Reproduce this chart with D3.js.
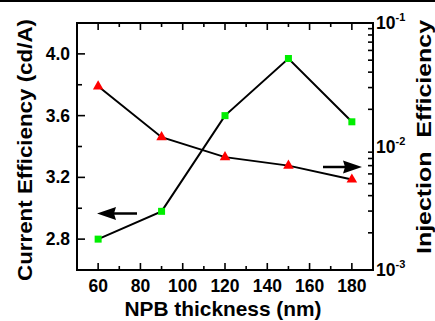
<!DOCTYPE html>
<html lang="en">
<head>
    <meta charset="UTF-8">
    <title>Current and Injection Efficiency vs NPB thickness</title>
    <script src="https://d3js.org/d3.v7.min.js"></script>
    <style>
        body { margin: 0; background: #fff; }
        svg text { font-family: "Liberation Sans", Arial, sans-serif; font-weight: bold; fill: #000; }
    </style>
</head>
<body>
    <svg id="chart" width="435" height="321"></svg>

    <script>
        // Data
        const thickness = [60, 90, 120, 150, 180];
        const currentEff = [2.80, 2.98, 3.60, 3.97, 3.56];     // cd/A, left axis
        const injectionEff = [0.0307, 0.0119, 0.0082, 0.0070, 0.0054]; // right axis, log
        const xTicks = [60, 80, 100, 120, 140, 160, 180];
        const yLeftTicks = [2.8, 3.2, 3.6, 4.0];
        const yRightTicks = [1e-3, 1e-2, 1e-1];
        const yRightLabels = ["-3", "-2", "-1"];

        const width = 435, height = 321;
        const margin = { left: 77, right: 62, top: 23, bottom: 51 };
        const x0 = margin.left, x1 = width - margin.right;
        const y0 = height - margin.bottom, y1 = margin.top;

        const svg = d3.select("#chart");

        // black strip along the top edge
        svg.append("rect").attr("x", 0).attr("y", 0).attr("width", width).attr("height", 2).attr("fill", "#000");

        const x = d3.scaleLinear().domain([50, 190]).range([x0, x1]);
        const yL = d3.scaleLinear().domain([2.6, 4.2]).range([y0, y1]);
        const yR = d3.scaleLog().domain([1e-3, 1e-1]).range([y0, y1]);

        // frame
        svg.append("rect")
            .attr("x", x0).attr("y", y1)
            .attr("width", x1 - x0).attr("height", y0 - y1)
            .attr("fill", "none").attr("stroke", "#000").attr("stroke-width", 2);

        const tickG = svg.append("g").attr("stroke", "#000").attr("stroke-width", 1.6);

        // x ticks, bottom and top, pointing inward
        d3.range(60, 181, 10).forEach(v => {
            const len = v % 20 === 0 ? 7 : 4;
            tickG.append("line").attr("x1", x(v)).attr("x2", x(v)).attr("y1", y0).attr("y2", y0 - len);
            tickG.append("line").attr("x1", x(v)).attr("x2", x(v)).attr("y1", y1).attr("y2", y1 + len);
        });

        // left y ticks
        d3.range(2.8, 4.01, 0.2).forEach(v => {
            const major = Math.round(v * 10) % 4 === 0;
            tickG.append("line").attr("x1", x0).attr("x2", x0 + (major ? 8 : 5)).attr("y1", yL(v)).attr("y2", yL(v));
        });

        // right log ticks
        yR.ticks().forEach(v => {
            const major = yRightTicks.some(t => Math.abs(t - v) / t < 1e-6);
            if (major) return;
            tickG.append("line").attr("x1", x1).attr("x2", x1 - 5).attr("y1", yR(v)).attr("y2", yR(v));
        });

        // tick labels
        svg.append("g").selectAll("text").data(xTicks).join("text")
            .attr("x", d => x(d)).attr("y", 292)
            .attr("text-anchor", "middle").attr("font-size", 17.5)
            .text(d => d);

        svg.append("g").selectAll("text").data(yLeftTicks).join("text")
            .attr("x", x0 - 7).attr("y", d => yL(d) + 6)
            .attr("text-anchor", "end").attr("font-size", 17.5)
            .text(d => d.toFixed(1));

        const rl = svg.append("g").selectAll("text").data(yRightTicks).join("text")
            .attr("x", x1 + 3).attr("y", d => yR(d) + 6)
            .attr("font-size", 17.5);
        rl.append("tspan").text("10");
        rl.append("tspan").attr("font-size", 11).attr("dy", -8).text((d, i) => yRightLabels[i]);

        // series lines and markers
        const pts = thickness.map((t, i) => ({ t, c: currentEff[i], inj: injectionEff[i] }));

        svg.append("path").datum(pts)
            .attr("fill", "none").attr("stroke", "#000").attr("stroke-width", 2)
            .attr("d", d3.line().x(d => x(d.t)).y(d => yL(d.c)));

        svg.append("path").datum(pts)
            .attr("fill", "none").attr("stroke", "#000").attr("stroke-width", 2)
            .attr("d", d3.line().x(d => x(d.t)).y(d => yR(d.inj)));

        svg.append("g").selectAll("rect").data(pts).join("rect")
            .attr("x", d => x(d.t) - 3.5).attr("y", d => yL(d.c) - 3.5)
            .attr("width", 7).attr("height", 7)
            .attr("fill", "#00ee00");

        svg.append("g").selectAll("path").data(pts).join("path")
            .attr("transform", d => `translate(${x(d.t)},${yR(d.inj)})`)
            .attr("d", d3.symbol(d3.symbolTriangle, 48))
            .attr("fill", "#ff0000");

        // arrows pointing to the axis each series belongs to
        function arrow(xTail, xTip, y) {
            const dir = Math.sign(xTip - xTail);
            const headLen = 19;
            svg.append("line")
                .attr("x1", xTail).attr("x2", xTip - dir * (headLen - 2))
                .attr("y1", y).attr("y2", y)
                .attr("stroke", "#000").attr("stroke-width", 2.5);
            svg.append("path")
                .attr("d", `M${xTip},${y} L${xTip - dir * headLen},${y - 6.5} L${xTip - dir * (headLen - 2)},${y} L${xTip - dir * headLen},${y + 6.5} Z`)
                .attr("fill", "#000");
        }
        arrow(137, 97, 213.5);
        arrow(323, 362, 167);

        // axis titles
        svg.append("text")
            .attr("x", 223).attr("y", 316)
            .attr("text-anchor", "middle").attr("font-size", 21)
            .attr("textLength", 197).attr("lengthAdjust", "spacingAndGlyphs")
            .text("NPB thickness (nm)");

        svg.append("text")
            .attr("transform", "translate(32,150) rotate(-90)")
            .attr("text-anchor", "middle").attr("font-size", 21)
            .attr("textLength", 262).attr("lengthAdjust", "spacingAndGlyphs")
            .text("Current Efficiency (cd/A)");

        svg.append("text")
            .attr("transform", "translate(431,137) rotate(-90)")
            .attr("text-anchor", "middle").attr("font-size", 21)
            .attr("textLength", 234).attr("lengthAdjust", "spacingAndGlyphs")
            .attr("xml:space", "preserve")
            .style("white-space", "pre")
            .text("Injection  Efficiency");
    </script>
</body>
</html>
